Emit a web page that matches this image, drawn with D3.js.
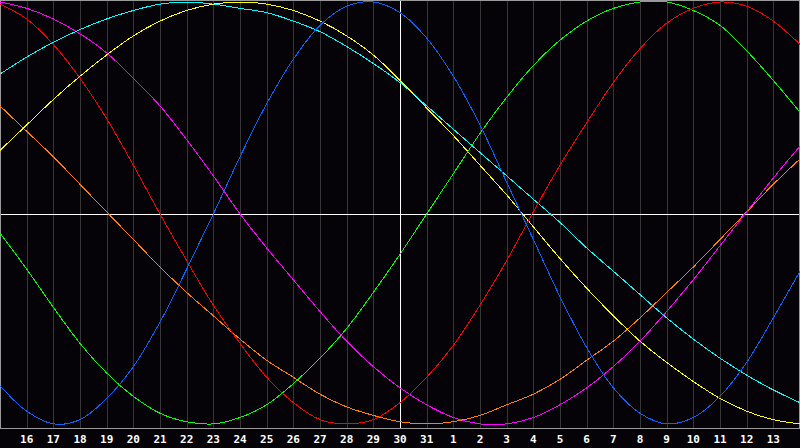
<!DOCTYPE html>
<html>
<head>
<meta charset="utf-8">
<script src="https://cdn.jsdelivr.net/npm/d3@7"></script>
<style>
  html, body { margin: 0; padding: 0; background: #050307; }
  svg { display: block; }
</style>
</head>
<body>
<svg width="800" height="448"></svg>
<script>
// day labels, one per grid step (index 0 = the 15th)
const days = [15, 16, 17, 18, 19, 20, 21, 22, 23, 24, 25, 26, 27, 28, 29, 30, 31,
              1, 2, 3, 4, 5, 6, 7, 8, 9, 10, 11, 12, 13, 14];

// series values in percent at each day
const red = [99, 92, 80, 64, 45, 23, 0, -22, -43, -61, -77, -89, -97, -99, -97, -89,
             -77, -62, -43, -22, 1, 23, 43, 62, 78, 90, 97, 100, 98, 91, 80];
const green = [-9, -26, -44, -61, -75, -86, -94, -98, -99, -96, -90, -80, -68, -54, -37, -19,
               0, 19, 38, 55, 70, 82, 91, 97, 100, 100, 96, 89, 77, 63, 48];
const blue = [-81, -93, -99, -97, -87, -72, -51, -26, 0, 27, 52, 73, 89, 98, 100, 95,
              83, 65, 42, 15, -12, -39, -63, -82, -94, -99, -96, -86, -70, -49, -27];
const cyan = [66, 74, 81, 87, 92, 96, 99, 100, 99, 97, 95, 91, 86, 79, 71, 62,
              51, 40, 29, 18, 7, -4, -16, -27, -38, -49, -59, -68, -76, -83, -89];
const magenta = [100, 97, 92, 85, 76, 64, 51, 35, 18, 0, -16, -31, -46, -60, -72, -82,
                 -90, -96, -99, -99, -96, -90, -82, -72, -60, -46, -31, -15, 1, 17, 32];
const yellow = [30, 42, 54, 65, 75, 84, 91, 96, 99, 100, 99, 96, 91, 84, 75, 63,
                50, 37, 23, 9, -6, -21, -35, -48, -60, -70, -79, -87, -93, -97, -99];
const orange = [51, 39, 27, 14, 1, -12, -25, -37, -48, -59, -69, -77, -85, -91, -95, -98,
                -99, -98, -95, -90, -85, -78, -69, -60, -49, -37, -25, -12, 1, 14, 26];

const series = [
  { name: "orange", values: orange, color: "#ff8000" },
  { name: "magenta", values: magenta, color: "#ff00ff" },
  { name: "cyan", values: cyan, color: "#00ffff" },
  { name: "yellow", values: yellow, color: "#ffff00" },
  { name: "green", values: green, color: "#00ff00" },
  { name: "red", values: red, color: "#ff0000" },
  { name: "blue", values: blue, color: "#0a64ff" }
];

const svg = d3.select("svg");
const W = 800, plotH = 428;

const x = d3.scaleLinear().domain([0, days.length - 1]).range([0, W]);
const y = d3.scaleLinear().domain([-100, 100]).range([426, 2]);

// background
svg.append("rect")
    .attr("width", 800).attr("height", 448)
    .attr("fill", "#050307");

// vertical grid lines
svg.append("g")
    .attr("class", "grid")
  .selectAll("line")
  .data(d3.range(1, days.length - 1))
  .enter().append("line")
    .attr("x1", (d) => Math.round(x(d)) + 0.5)
    .attr("x2", (d) => Math.round(x(d)) + 0.5)
    .attr("y1", 0)
    .attr("y2", plotH)
    .attr("stroke", "#363636")
    .attr("stroke-width", 1);

// white crosshair: zero line and today line
svg.append("line")
    .attr("x1", 0).attr("x2", W)
    .attr("y1", 214.5).attr("y2", 214.5)
    .attr("stroke", "#ffffff");
svg.append("line")
    .attr("x1", x(15) + 0.5).attr("x2", x(15) + 0.5)
    .attr("y1", 0).attr("y2", plotH)
    .attr("stroke", "#ffffff");

// border
svg.append("rect")
    .attr("x", 0.5).attr("y", 0.5)
    .attr("width", W - 1).attr("height", plotH)
    .attr("fill", "none")
    .attr("stroke", "#9a9a9a");

// curves
const line = d3.line()
    .x((d, i) => x(i))
    .y((d) => y(d))
    .curve(d3.curveCatmullRom);

svg.append("g")
    .attr("class", "curves")
  .selectAll("path")
  .data(series)
  .enter().append("path")
    .attr("d", (d) => line(d.values))
    .attr("fill", "none")
    .attr("stroke", (d) => d.color)
    .attr("stroke-width", 1)
    .attr("shape-rendering", "crispEdges");

// day labels
svg.append("g")
    .attr("class", "labels")
  .selectAll("text")
  .data(days.slice(1, days.length - 1))
  .enter().append("text")
    .attr("x", (d, i) => x(i + 1))
    .attr("y", 443)
    .attr("text-anchor", "middle")
    .attr("fill", "#ffffff")
    .attr("font-family", "DejaVu Sans Mono, monospace")
    .attr("font-weight", "bold")
    .attr("font-size", 11)
    .text((d) => d);
</script>
</body>
</html>
